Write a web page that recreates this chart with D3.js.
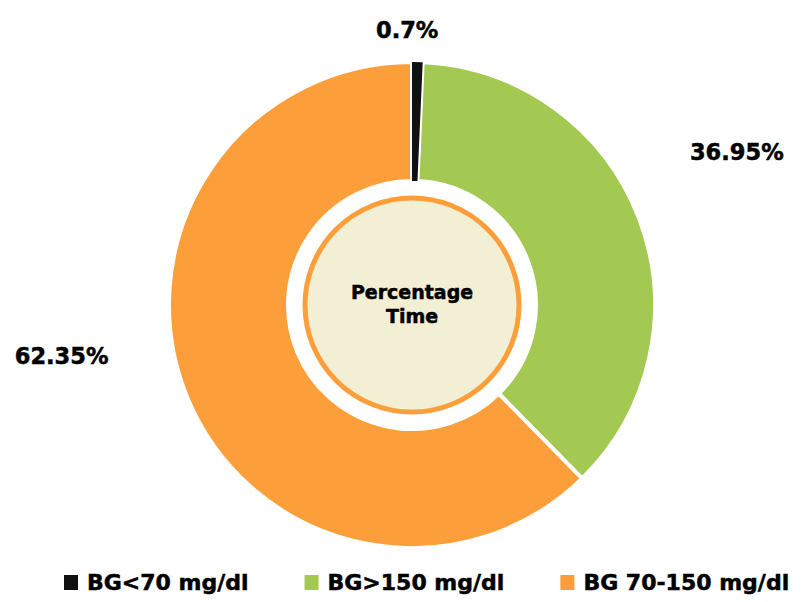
<!DOCTYPE html>
<meta charset="utf-8" />
<style>
  body { margin: 0; background: #fff; }
  text { font-family: "DejaVu Sans", Verdana, sans-serif; font-weight: bold; fill: #000; stroke: #000; stroke-width: 0.5px; }
</style>
<body>
<script src="https://d3js.org/d3.v7.min.js"></script>
<script>
  // chart data
  const categories = ["BG<70 mg/dl", "BG>150 mg/dl", "BG 70-150 mg/dl"];
  const values = [0.7, 36.95, 62.35];
  const valueLabels = ["0.7%", "36.95%", "62.35%"];
  const colors = ["#111111", "#a3c953", "#fc9f3b"];
  const centerLines = ["Percentage", "Time"];

  // where each value label sits: angle (deg, clockwise from top) and distance from centre
  const labelPlace = [[-1, 275], [64.8, 359], [261.8, 354]];

  const width = 801, height = 602;
  const cx = 412, cy = 305;
  const outerR = 243, innerR = 124;

  const svg = d3.select("body").append("svg")
    .attr("width", width)
    .attr("height", height);

  const g = svg.append("g").attr("transform", "translate(" + cx + "," + cy + ")");

  const pie = d3.pie().sort(null).value(d => d.value);
  const arcs = pie(categories.map((c, i) => ({ name: c, value: values[i], color: colors[i] })));

  const arc = d3.arc().innerRadius(innerR).outerRadius(outerR);

  // big slices first with white separators, the thin one on top
  // (its white outline goes behind the fill so the wedge keeps its width)
  g.selectAll("path.slice")
    .data(arcs.slice().reverse())
    .enter()
    .append("path")
    .attr("class", "slice")
    .attr("d", arc)
    .attr("fill", d => d.data.color)
    .attr("stroke", "#fff")
    .attr("stroke-width", d => d.value < 5 ? 3 : 4)
    .style("paint-order", d => d.value < 5 ? "stroke" : "normal");

  // inner disc
  g.append("circle")
    .attr("r", 107)
    .attr("fill", "#f3efd4")
    .attr("stroke", "#fc9f3b")
    .attr("stroke-width", 5);

  g.selectAll("text.center")
    .data(centerLines)
    .enter()
    .append("text")
    .attr("class", "center")
    .attr("text-anchor", "middle")
    .attr("y", (d, i) => -6 + i * 24)
    .style("font-size", "19px")
    .text(d => d);

  // value labels
  g.selectAll("text.val")
    .data(arcs)
    .enter()
    .append("text")
    .attr("class", "val")
    .attr("text-anchor", "middle")
    .attr("dy", "0.36em")
    .style("font-size", "22.5px")
    .attr("x", (d, i) => Math.sin(labelPlace[i][0] * Math.PI / 180) * labelPlace[i][1])
    .attr("y", (d, i) => -Math.cos(labelPlace[i][0] * Math.PI / 180) * labelPlace[i][1])
    .text((d, i) => valueLabels[i]);

  // legend
  const legend = svg.append("g").attr("transform", "translate(64,590)");
  let lx = 0;
  categories.forEach((c, i) => {
    const item = legend.append("g").attr("transform", "translate(" + lx + ",0)");
    item.append("rect")
      .attr("x", 0).attr("y", -15)
      .attr("width", 14).attr("height", 15)
      .attr("fill", colors[i]);
    const t = item.append("text")
      .attr("x", 23)
      .style("font-size", "22px")
      .text(c);
    lx += 23 + t.node().getComputedTextLength() + 56;
  });
</script>
</body>
